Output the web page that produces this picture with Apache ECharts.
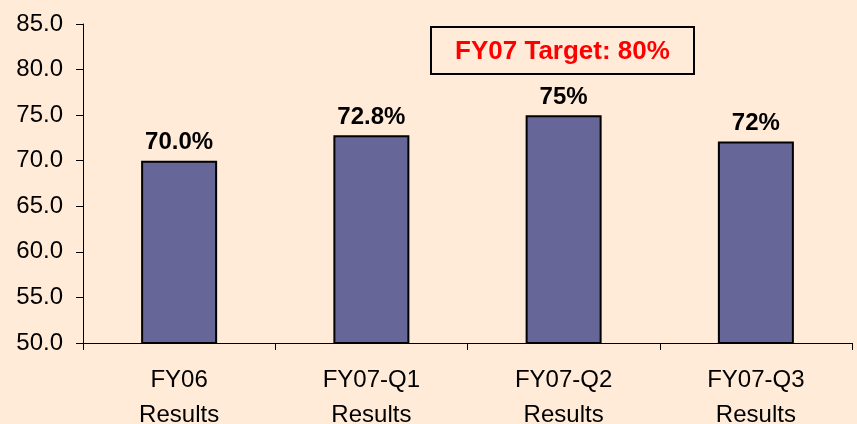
<!DOCTYPE html>
<html>
<head>
<meta charset="utf-8">
<script src="https://cdn.jsdelivr.net/npm/echarts@6/dist/echarts.min.js"></script>
<style>
  html, body { margin: 0; padding: 0; background: #FFEBD7; }
  #chart { width: 857px; height: 424px; }
</style>
</head>
<body>
<div id="chart"></div>
<script>
const categories = ['FY06\nResults', 'FY07-Q1\nResults', 'FY07-Q2\nResults', 'FY07-Q3\nResults'];
const values = [70.0, 72.8, 75.0, 72.1];
const barLabels = ['70.0%', '72.8%', '75%', '72%'];
const targetText = 'FY07 Target: 80%';

const chart = echarts.init(document.getElementById('chart'));
chart.setOption({
  backgroundColor: '#FFEBD7',
  animation: false,
  textStyle: { fontFamily: 'Liberation Sans, Arial, sans-serif' },
  grid: { left: 83, right: 5, top: 24, bottom: 81, outerBoundsMode: 'none', containLabel: false },
  xAxis: {
    type: 'category',
    data: categories,
    axisLine: { lineStyle: { color: '#000', width: 1 } },
    axisTick: { show: true, length: 7, lineStyle: { color: '#000' } },
    axisLabel: {
      color: '#000',
      fontSize: 24,
      lineHeight: 35,
      margin: 20,
      interval: 0
    }
  },
  yAxis: {
    type: 'value',
    min: 50,
    max: 85,
    interval: 5,
    splitLine: { show: false },
    axisLine: { show: true, lineStyle: { color: '#000', width: 1 } },
    axisTick: { show: true, length: 7, lineStyle: { color: '#000' } },
    axisLabel: {
      color: '#000',
      fontSize: 24,
      margin: 20,
      formatter: v => v.toFixed(1)
    }
  },
  series: [{
    type: 'bar',
    data: values,
    barWidth: 76,
    itemStyle: { color: '#666699', borderColor: '#000', borderWidth: 2 },
    label: {
      show: true,
      position: 'top',
      distance: 6,
      color: '#000',
      fontSize: 24,
      fontWeight: 'bold',
      formatter: p => barLabels[p.dataIndex]
    }
  }],
  graphic: [{
    type: 'group',
    left: 430,
    top: 26,
    children: [{
      type: 'rect',
      shape: { x: 0, y: 0, width: 263, height: 47 },
      style: { fill: 'transparent', stroke: '#000', lineWidth: 2 }
    }, {
      type: 'text',
      x: 131.5,
      y: 25,
      style: {
        text: targetText,
        fill: '#FF0000',
        font: 'bold 26px "Liberation Sans", Arial, sans-serif',
        align: 'center',
        verticalAlign: 'middle'
      }
    }]
  }]
});
</script>
</body>
</html>
